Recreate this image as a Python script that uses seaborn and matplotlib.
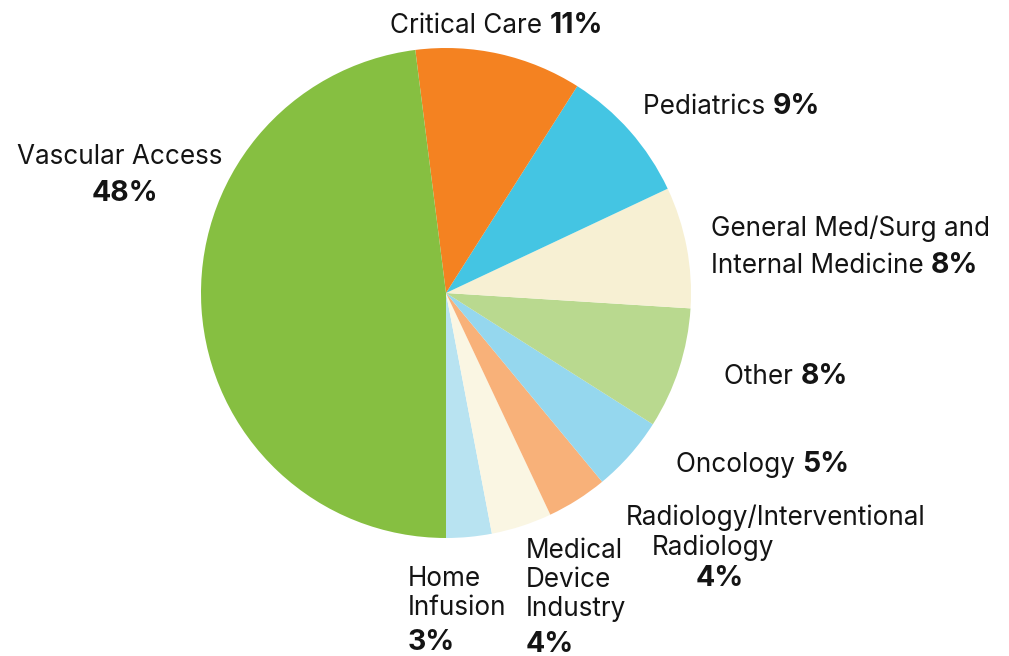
import matplotlib
matplotlib.use("Agg")
import matplotlib.pyplot as plt
import seaborn as sns

sns.set_theme(style="white")
plt.rcParams['font.family'] = ['Inter', 'DejaVu Sans']

# Data (counter-clockwise from the bottom)
categories = ["Home Infusion", "Medical Device Industry", "Radiology/Interventional Radiology",
              "Oncology", "Other", "General Med/Surg and Internal Medicine",
              "Pediatrics", "Critical Care", "Vascular Access"]
values = [3, 4, 4, 5, 8, 8, 9, 11, 48]
colors = ["#B8E3F1", "#FAF6E3", "#F8B179", "#95D7EE", "#B9D98F", "#F7F0D3",
          "#44C5E3", "#F48221", "#86BF41"]
pct_labels = [f"{v}%" for v in values]

W, H = 1009, 656
fig = plt.figure(figsize=(W / 100, H / 100), dpi=100)
cx, cy, r = 446, 293, 245
ax = fig.add_axes([(cx - r) / W, (H - cy - r) / H, 2 * r / W, 2 * r / H])
ax.pie(values, colors=colors, startangle=-90, counterclock=True,
       wedgeprops=dict(linewidth=0), radius=1)
ax.set_xlim(-1, 1)
ax.set_ylim(-1, 1)
ax.set_aspect("equal")
ax.axis("off")

FS = 18.8
FSB = 20.5
TC = "#141414"


def fx(x):
    return x / W


def fy(y):
    return 1 - y / H


def txt(x, y, s, bold=False, ha="left"):
    return fig.text(fx(x), fy(y), s, fontsize=FSB if bold else FS, color=TC, ha=ha,
                    va="baseline", fontweight="bold" if bold else "normal")


def mixed(x, y, s, b):
    t = txt(x, y, s + " ")
    ax.annotate(b, xy=(1, 0), xycoords=t, xytext=(0, 0), textcoords="offset points",
                ha="left", va="bottom", fontsize=FSB, color=TC, fontweight="bold",
                annotation_clip=False)
    return t


idx = {c: i for i, c in enumerate(categories)}

mixed(390, 33, "Critical Care", pct_labels[idx["Critical Care"]])
mixed(643, 114, "Pediatrics", pct_labels[idx["Pediatrics"]])
txt(711, 236, "General Med/Surg and")
mixed(711, 273, "Internal Medicine", pct_labels[idx["General Med/Surg and Internal Medicine"]])
mixed(724, 384, "Other", pct_labels[idx["Other"]])
mixed(676, 472, "Oncology", pct_labels[idx["Oncology"]])
txt(776, 525, "Radiology/Interventional", ha="center")
txt(713, 555, "Radiology", ha="center")
txt(720, 586, pct_labels[idx["Radiology/Interventional Radiology"]], bold=True, ha="center")
txt(526, 558, "Medical")
txt(526, 587, "Device")
txt(526, 616, "Industry")
txt(526, 652, pct_labels[idx["Medical Device Industry"]], bold=True)
txt(408, 586, "Home")
txt(408, 615, "Infusion")
txt(408, 650, pct_labels[idx["Home Infusion"]], bold=True)
txt(17, 164, "Vascular Access")
txt(125, 201, pct_labels[idx["Vascular Access"]], bold=True, ha="center")

fig.savefig("out.png", dpi=100)
